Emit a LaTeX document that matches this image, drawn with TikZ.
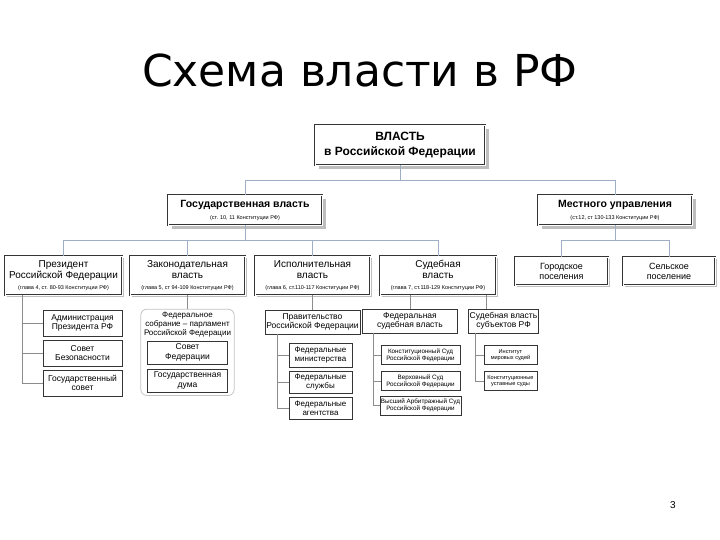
\documentclass[tikz,border=0pt]{standalone}
\usepackage{fontspec}
\setmainfont{Liberation Sans}
\newfontfamily\titlefont{DejaVu Sans}
\usetikzlibrary{positioning,shadows,fit,backgrounds}
\usepackage{xcolor}
\definecolor{linkBlue}{HTML}{9DAEC6}
\definecolor{linkGray}{HTML}{8C8C8C}
\definecolor{boxGray}{HTML}{353535}
\definecolor{shadeGray}{HTML}{BEBEBE}
\definecolor{frameGray}{HTML}{C4C4C4}
\newcommand{\artnote}[1]{{\fontsize{5.5}{6.5}\selectfont #1}}
\tikzset{
    headbox/.style={
        rectangle,
        draw=boxGray,
        line width=0.6pt,
        double=white,
        double distance=0.8pt,
        fill=white,
        align=center,
        inner sep=1pt,
        drop shadow={shadow xshift=4pt, shadow yshift=-4pt, fill=shadeGray, opacity=1}
    },
    branch/.style={
        rectangle,
        draw=boxGray,
        line width=0.5pt,
        double=white,
        double distance=0.6pt,
        fill=white,
        align=center,
        inner sep=1pt,
        minimum height=39,
        font=\fontsize{10}{11}\selectfont,
        drop shadow={shadow xshift=1.5pt, shadow yshift=-1.5pt, fill=shadeGray, opacity=1}
    },
    unit/.style={
        rectangle,
        draw=boxGray,
        line width=0.9pt,
        fill=white,
        align=center,
        inner sep=1pt,
        font=\fontsize{8.5}{9.5}\selectfont
    },
    court/.style={
        unit,
        minimum width=79,
        minimum height=19,
        font=\fontsize{6.3}{7.3}\selectfont
    },
    assembly/.style={
        rectangle,
        rounded corners=6pt,
        draw=frameGray,
        line width=0.8pt,
        fill=white,
        inner sep=3pt
    },
    link/.style={draw=linkBlue, line width=0.8pt},
    sublink/.style={draw=linkGray, line width=0.8pt}
}

\begin{document}
\begin{tikzpicture}[x=1pt,y=-1pt]
    \useasboundingbox (0,0) rectangle (720,540);

    \node[font=\titlefont\fontsize{44}{48}\selectfont] (title) at (360,70)
        {Схема власти в РФ};

    \node[headbox, minimum width=170, minimum height=40,
        font=\fontsize{12}{15}\selectfont\bfseries] (vlast) at (400,145)
        {ВЛАСТЬ\\в Российской Федерации};

    \node[headbox, minimum width=154, minimum height=30,
        font=\fontsize{10.5}{12}\selectfont\bfseries] (gos) at (245,210)
        {Государственная власть\\\artnote{\mdseries(ст. 10, 11 Конституции РФ)}};
    \node[headbox, minimum width=154, minimum height=30,
        font=\fontsize{10.5}{12}\selectfont\bfseries] (mest) at (615,210)
        {Местного управления\\\artnote{\mdseries(ст.12, ст 130-133 Конституции РФ)}};

    % ветви государственной власти
    \node[branch, minimum width=117] (pres) at (63.5,275.5)
        {Президент\\Российской Федерации\\\artnote{(глава 4, ст. 80-93 Конституции РФ)}};
    \node[branch, minimum width=115] (zak) at (187.5,275.5)
        {Законодательная\\власть\\\artnote{(глава 5, ст 94-109 Конституции РФ)}};
    \node[branch, minimum width=115] (isp) at (312.5,275.5)
        {Исполнительная\\власть\\\artnote{(глава 6, ст.110-117 Конституции РФ)}};
    \node[branch, minimum width=116] (sud) at (438,275.5)
        {Судебная\\власть\\\artnote{(глава 7, ст.118-129 Конституции РФ)}};

    % местное самоуправление
    \node[branch, minimum width=93, minimum height=28,
        font=\fontsize{9}{10}\selectfont] (gor) at (561.5,271)
        {Городское\\поселения};
    \node[branch, minimum width=92, minimum height=28,
        font=\fontsize{9}{10}\selectfont] (sel) at (669,271)
        {Сельское\\поселение};

    % Президент
    \node[unit, minimum width=79, minimum height=26] (adm) at (82.5,323)
        {Администрация\\Президента РФ};
    \node[unit, minimum width=79, minimum height=26] (sovbez) at (82.5,353)
        {Совет\\Безопасности};
    \node[unit, minimum width=79, minimum height=26] (gossov) at (82.5,383)
        {Государственный\\совет};

    % Федеральное собрание
    \node[font=\fontsize{8}{9}\selectfont, align=center, inner sep=0pt] (fstitle)
        at (187.5,325) {Федеральное\\собрание -- парламент\\Российской Федерации};
    \node[unit, minimum width=80, minimum height=23] (sovfed) at (187.5,352.5)
        {Совет\\Федерации};
    \node[unit, minimum width=80, minimum height=23] (duma) at (187.5,380.5)
        {Государственная\\дума};
    \begin{scope}[on background layer]
        \fill[white] (0,0) rectangle (720,540);
        \node[assembly, fit=(fstitle)(sovfed)(duma)] (fsobr) {};
    \end{scope}

    % Правительство
    \node[unit, minimum width=95, minimum height=24] (prav) at (312.5,322)
        {Правительство\\Российской Федерации};
    \node[unit, minimum width=63, minimum height=24,
        font=\fontsize{8}{9}\selectfont] (minis) at (320.5,355)
        {Федеральные\\министерства};
    \node[unit, minimum width=63, minimum height=22,
        font=\fontsize{8}{9}\selectfont] (sluzh) at (320.5,382)
        {Федеральные\\службы};
    \node[unit, minimum width=63, minimum height=22,
        font=\fontsize{8}{9}\selectfont] (agent) at (320.5,408)
        {Федеральные\\агентства};

    % судебная власть
    \node[unit, minimum width=95, minimum height=24] (fedsud) at (410,321)
        {Федеральная\\судебная власть};
    \node[unit, minimum width=67, minimum height=24] (subsud) at (503.5,321)
        {Судебная власть\\субъектов РФ};
    \node[court] (konsud) at (420.5,355)
        {Конституционный Суд\\Российской Федерации};
    \node[court] (versud) at (420.5,381)
        {Верховный Суд\\Российской Федерации};
    \node[court] (arbsud) at (420.5,405.5)
        {Высший Арбитражный Суд\\Российской Федерации};
    \node[court, minimum width=53, font=\fontsize{5.6}{6.6}\selectfont] (mirsud)
        at (510.5,355) {Институт\\мировых судей};
    \node[court, minimum width=53, font=\fontsize{5.6}{6.6}\selectfont] (ustsud)
        at (510.5,381) {Конституционные\\уставные суды};

    \node[font=\fontsize{10}{12}\selectfont] (page) at (673,505) {3};

    % связи
    \draw[link] (vlast.south) -- ++(0,15) -| (gos.north);
    \draw[link] (vlast.south) -- ++(0,15) -| (mest.north);
    \draw[link] (gos.south) -- ++(0,15) -| (pres.north);
    \draw[link] (gos.south) -- ++(0,15) -| (zak.north);
    \draw[link] (gos.south) -- ++(0,15) -| (isp.north);
    \draw[link] (gos.south) -- ++(0,15) -| (sud.north);
    \draw[link] (mest.south) -- ++(0,15) -| (gor.north);
    \draw[link] (mest.south) -- ++(0,15) -| (sel.north);

    \draw[sublink] ([xshift=-41.5pt]pres.south) |- (adm.west);
    \draw[sublink] ([xshift=-41.5pt]pres.south) |- (sovbez.west);
    \draw[sublink] ([xshift=-41.5pt]pres.south) |- (gossov.west);
    \draw[sublink] (zak.south) -- (zak.south |- fsobr.north);
    \draw[sublink] (isp.south) -- (prav.north);
    \draw[sublink] ([xshift=-35.5pt]prav.south) |- (minis.west);
    \draw[sublink] ([xshift=-35.5pt]prav.south) |- (sluzh.west);
    \draw[sublink] ([xshift=-35.5pt]prav.south) |- (agent.west);
    \draw[sublink] (sud.south -| fedsud.north) -- (fedsud.north);
    \draw[sublink] ([xshift=48pt]sud.south) -- ([xshift=48pt]sud.south |- subsud.north);
    \draw[sublink] ([xshift=-37pt]fedsud.south) |- (konsud.west);
    \draw[sublink] ([xshift=-37pt]fedsud.south) |- (versud.west);
    \draw[sublink] ([xshift=-37pt]fedsud.south) |- (arbsud.west);
    \draw[sublink] ([xshift=-28.5pt]subsud.south) |- (mirsud.west);
    \draw[sublink] ([xshift=-28.5pt]subsud.south) |- (ustsud.west);
\end{tikzpicture}
\end{document}
